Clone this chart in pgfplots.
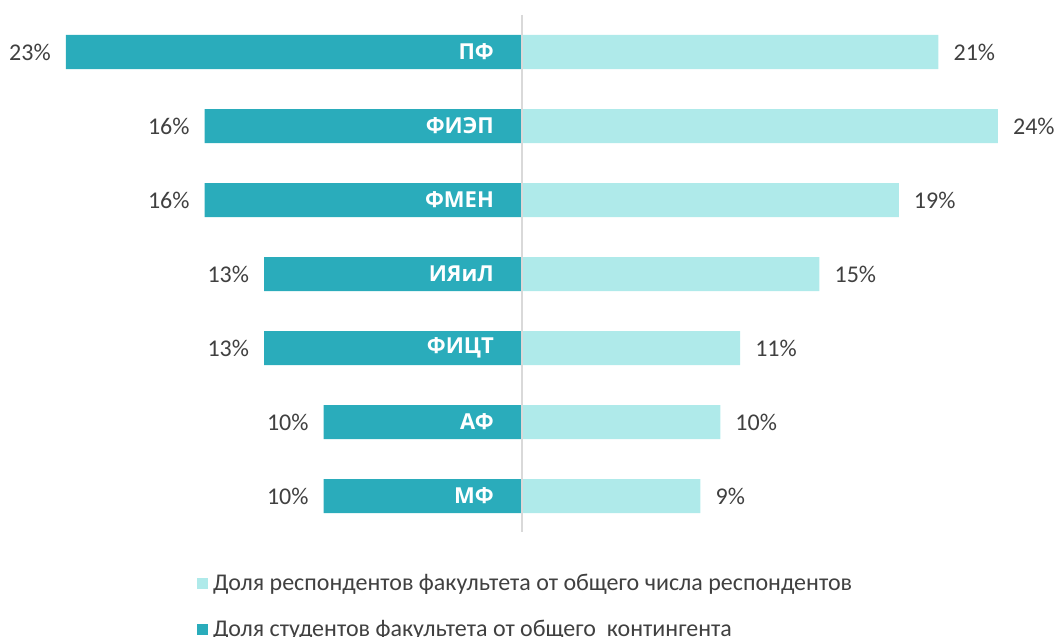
\documentclass[border=0pt]{standalone}
\usepackage{pgfplots}
\usepackage{pgfplotstable}
\pgfplotsset{compat=1.18}
\usepackage{fontspec}
\setmainfont{Carlito}
\newfontfamily\labfont{Open Sans}
\definecolor{darkteal}{HTML}{2AACBB}
\definecolor{lightteal}{HTML}{AFEAEA}
\definecolor{txt}{HTML}{404040}
\definecolor{linegray}{HTML}{D9D9D9}

\pgfplotstableread{
idx left right name
0 23 21 ПФ
1 16 24 ФИЭП
2 16 19 ФМЕН
3 13 15 ИЯиЛ
4 13 11 ФИЦТ
5 10 10 АФ
6 10 9 МФ
}\data

\begin{document}
\begin{tikzpicture}
\begin{axis}[
  at={(0,0)}, anchor=south west,
  scale only axis, width=1059bp, height=637bp,
  xmin=-26.324, xmax=27.08,
  ymin=-0.7027, ymax=7.905, y dir=reverse,
  axis lines=none, clip=false,
  /pgf/number format/assume math mode=true,
  xbar, bar width=34bp, bar shift=0pt,
  legend image code/.code={\fill[#1] (0bp,-5.5bp) rectangle (11bp,5.5bp);},
  legend style={at={(0.186,0.0989)}, anchor=north west, draw=none, fill=none,
    inner sep=0pt, row sep=28.5bp, font=\fontsize{24bp}{28bp}\selectfont,
    text=txt, cells={anchor=west},
    nodes={inner xsep=5bp, inner ysep=0pt}},
  legend cell align=left,
  nodes near coords={\pgfmathprintnumber{\pgfplotspointmeta}\%},
  point meta=explicit,
  every node near coord/.append style={font=\fontsize{24bp}{28bp}\selectfont, text=txt, inner xsep=15bp, inner ysep=0pt},
]
\addplot[fill=lightteal, draw=none, every node near coord/.append style={anchor=west}]
  table[x=right, y=idx, meta=right] {\data};
\addlegendentry{Доля респондентов факультета от общего числа респондентов}
\addplot[fill=darkteal, draw=none, every node near coord/.append style={anchor=east}]
  table[x expr=-\thisrow{left}, y=idx, meta=left] {\data};
\addlegendentry{Доля студентов факультета от общего\ \ контингента}
\addplot[only marks, mark=none, forget plot, point meta=explicit symbolic,
  nodes near coords={\pgfplotspointmeta},
  every node near coord/.append style={anchor=east, text=white, inner sep=0pt,
    font=\labfont\bfseries\fontsize{22bp}{26bp}\selectfont}]
  table[x expr=-1.41, y=idx, meta=name] {\data};
\draw[color=linegray, line width=1.5bp] (axis cs:0,-0.5) -- (axis cs:0,6.486);
\end{axis}
\pgfresetboundingbox
\useasboundingbox (0,0) rectangle (1059bp,637bp);
\end{tikzpicture}
\end{document}
